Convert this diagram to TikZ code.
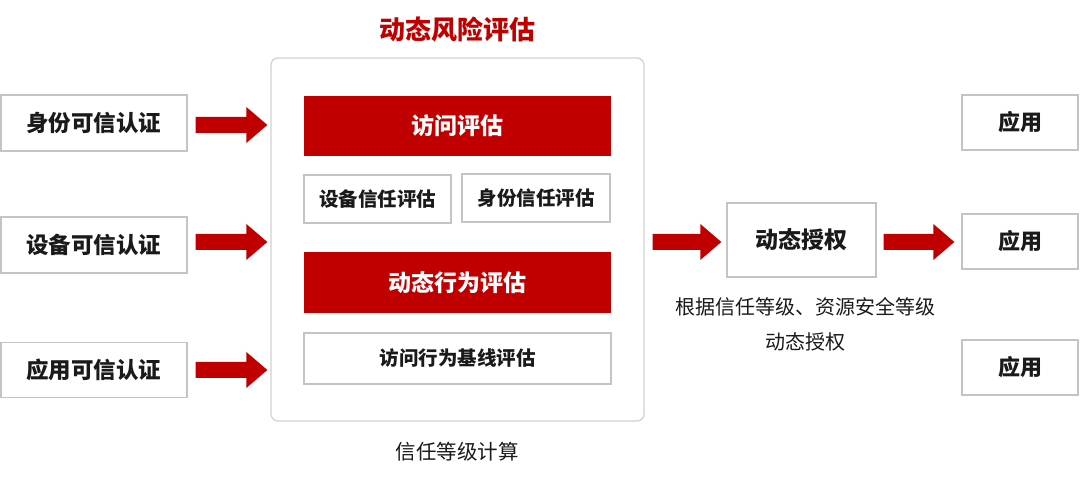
\documentclass[tikz,border=0pt]{standalone}
\usepackage{fontspec}
\newfontfamily\cjk{Noto Sans CJK SC}
\usetikzlibrary{calc}
\definecolor{mred}{HTML}{C00000}
\definecolor{bgray}{HTML}{C4C4C4}
\definecolor{cgray}{HTML}{D2D2D2}
\definecolor{txt}{HTML}{1A1A1A}
\newcommand\redarrow[2]{\fill[mred] let \p1=#1, \p2=#2 in
  (\x1,\y1+8pt) -- (\x2-21pt,\y1+8pt) -- (\x2-21pt,\y1+18pt) -- (\x2,\y1) --
  (\x2-21pt,\y1-18pt) -- (\x2-21pt,\y1-8pt) -- (\x1,\y1-8pt) -- cycle;}
\begin{document}
\begin{tikzpicture}[x=1pt,y=-1pt,
  wbox/.style={draw=bgray,line width=1.3pt,fill=white,inner sep=0pt,text=txt,font=\cjk\bfseries},
  rbox/.style={fill=mred,inner sep=0pt,text=white,font=\cjk\bfseries\fontsize{23}{23}\selectfont},
  plain/.style={text=txt,font=\cjk\fontsize{20.5}{26}\selectfont,align=center,inner sep=0pt}]
\useasboundingbox[fill=white] (0,0) rectangle (1080,478);
% title
\node[text=mred,font=\cjk\bfseries\fontsize{26}{26}\selectfont] (title) at (457,30) {动态风险评估};
% container
\node[draw=cgray,line width=1.3pt,rounded corners=7pt,minimum width=373pt,minimum height=363pt,inner sep=0pt] (cont) at (457.5,239.5) {};
\node[rbox,minimum width=307pt,minimum height=60pt] (fa) at (457.5,126) {访问评估};
\node[wbox,minimum width=147pt,minimum height=48pt,font=\cjk\bfseries\fontsize{19.5}{20}\selectfont] (sb) at (377.5,199) {设备信任评估};
\node[wbox,minimum width=148pt,minimum height=48pt,font=\cjk\bfseries\fontsize{19.5}{20}\selectfont] (sf) at (536,198) {身份信任评估};
\node[rbox,minimum width=307pt,minimum height=61pt] (dx) at (457.5,282.5) {动态行为评估};
\node[wbox,minimum width=307pt,minimum height=51pt,font=\cjk\bfseries\fontsize{19.5}{20}\selectfont] (jx) at (457.5,358.5) {访问行为基线评估};
\node[plain] (calcl) at (457,452) {信任等级计算};
% left boxes
\node[wbox,minimum width=186pt,minimum height=56pt,font=\cjk\bfseries\fontsize{22.5}{23}\selectfont] (l1) at (94,123) {身份可信认证};
\node[wbox,minimum width=186pt,minimum height=56pt,font=\cjk\bfseries\fontsize{22.5}{23}\selectfont] (l2) at (94,245) {设备可信认证};
\node[wbox,minimum width=186pt,minimum height=55pt,font=\cjk\bfseries\fontsize{22.5}{23}\selectfont] (l3) at (94,370) {应用可信认证};
% auth
\node[wbox,minimum width=149pt,minimum height=74pt,font=\cjk\bfseries\fontsize{23}{23}\selectfont] (auth) at (801.5,240) {动态授权};
\node[plain,font=\cjk\fontsize{20}{26}\selectfont] (authtxt) at (805,324) {根据信任等级、资源安全等级\\[9pt]动态授权};
% apps
\node[wbox,minimum width=116pt,minimum height=55pt,font=\cjk\bfseries\fontsize{22}{22}\selectfont] (a1) at (1020,122.5) {应用};
\node[wbox,minimum width=116pt,minimum height=55pt,font=\cjk\bfseries\fontsize{22}{22}\selectfont] (a2) at (1020,241.5) {应用};
\node[wbox,minimum width=116pt,minimum height=55pt,font=\cjk\bfseries\fontsize{22}{22}\selectfont] (a3) at (1020,367.5) {应用};
% arrows
\coordinate (s1) at ($(l1.east)+(8,2)$);
\coordinate (e1) at ($(cont.west|-s1)+(-3,0)$);
\coordinate (s2) at ($(l2.east)+(8,-3)$);
\coordinate (e2) at ($(cont.west|-s2)+(-3,0)$);
\coordinate (s3) at ($(l3.east)+(8,0)$);
\coordinate (e3) at ($(cont.west|-s3)+(-3,0)$);
\redarrow{(s1)}{(e1)}
\redarrow{(s2)}{(e2)}
\redarrow{(s3)}{(e3)}
\coordinate (s4) at ($(cont.east|-auth)+(8,2)$);
\coordinate (e4) at ($(auth.west|-s4)+(-5,0)$);
\redarrow{(s4)}{(e4)}
\coordinate (s5) at ($(auth.east)+(7,2)$);
\coordinate (e5) at ($(a2.west|-s5)+(-7,0)$);
\redarrow{(s5)}{(e5)}
\end{tikzpicture}
\end{document}
